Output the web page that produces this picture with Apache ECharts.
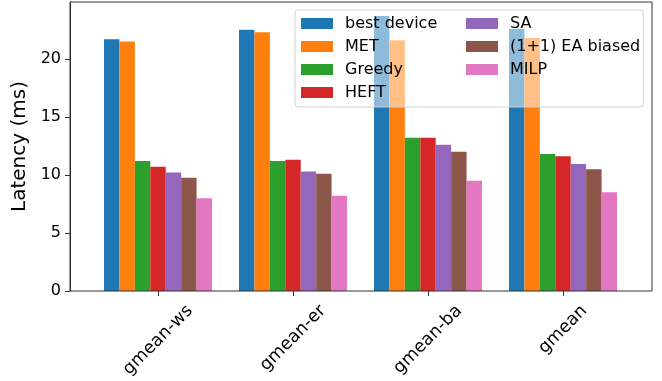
<!DOCTYPE html>
<html>
<head>
<meta charset="utf-8">
<script src="https://cdn.jsdelivr.net/npm/echarts@6/dist/echarts.min.js"></script>
<style>
  html, body { margin: 0; padding: 0; background: #fff; }
  #chart { width: 662px; height: 381px; }
</style>
</head>
<body>
<div id="chart"></div>
<script>
// Workload groups on the x axis
const categories = ['gmean-ws', 'gmean-er', 'gmean-ba', 'gmean'];

// Latency per scheduler (ms), one value per group
const bestDevice = [21.7, 22.5, 23.7, 22.6];
const met        = [21.5, 22.3, 21.6, 21.8];
const greedy     = [11.2, 11.2, 13.2, 11.8];
const heft       = [10.7, 11.3, 13.2, 11.6];
const sa         = [10.2, 10.3, 12.6, 10.95];
const eaBiased   = [9.75, 10.1, 12.0, 10.5];
const milp       = [8.0, 8.2, 9.5, 8.5];

const seriesNames = ['best device', 'MET', 'Greedy', 'HEFT', 'SA', '(1+1) EA biased', 'MILP'];
const seriesValues = [bestDevice, met, greedy, heft, sa, eaBiased, milp];
const palette = ['#1f77b4', '#ff7f0e', '#2ca02c', '#d62728', '#9467bd', '#8c564b', '#e377c2'];

const yMax = 24.9;
const font = 'DejaVu Sans';
const spine = '#333';
const tickFontSize = 16;
const catFontSize = 17.5;

// Rotated category labels are centred under their tick (bounding box hangs
// below the anchor). Each label gets padding sized from its own text width so
// the rotated text shifts straight down by half of its rotated extent.
const measureCtx = document.createElement('canvas').getContext('2d');
measureCtx.font = catFontSize + 'px "' + font + '"';
const textHeight = catFontSize * 1.164;
const labelRich = {};
categories.forEach((c, i) => {
  const w = measureCtx.measureText(c).width;
  const p = (w + textHeight) / 2;
  labelRich['c' + i] = {
    fontSize: catFontSize, fontFamily: font, color: '#000',
    padding: [p, p, 0, 0]
  };
});

const chart = echarts.init(document.getElementById('chart'), null, { renderer: 'canvas' });

chart.setOption({
  animation: false,
  backgroundColor: '#fff',
  textStyle: { fontFamily: font },
  grid: [
    // frame + value axis
    { left: 70, right: 10, top: 2, bottom: 90, show: true, borderColor: spine, borderWidth: 1,
      backgroundColor: 'transparent', z: 5, containLabel: false, outerBoundsMode: 'none' },
    // bar area (inset so the groups get side margins)
    { left: 90.5, right: 31.5, top: 2, bottom: 90, containLabel: false, outerBoundsMode: 'none' }
  ],
  xAxis: [
    { gridIndex: 0, type: 'value', show: false, min: 0, max: 1 },
    {
      gridIndex: 1, type: 'category', data: categories,
      axisLine: { show: false },
      axisTick: { show: true, alignWithLabel: true, length: 5, lineStyle: { color: spine } },
      axisLabel: {
        rotate: 45, margin: 10, align: 'center', verticalAlign: 'middle',
        fontSize: catFontSize, color: '#000', fontFamily: font,
        formatter: (v, i) => '{c' + i + '|' + v + '}',
        rich: labelRich
      },
      splitLine: { show: false }
    }
  ],
  yAxis: [
    {
      gridIndex: 0, type: 'value', min: 0, max: yMax, interval: 5,
      name: 'Latency (ms)', nameLocation: 'middle', nameGap: 35,
      nameTextStyle: { fontSize: 20, color: '#000', fontFamily: font },
      axisLine: { show: true, lineStyle: { color: spine } },
      axisTick: { show: true, length: 5, lineStyle: { color: spine } },
      axisLabel: { fontSize: tickFontSize, color: '#000', margin: 9, fontFamily: font,
        showMaxLabel: false },
      splitLine: { show: false }
    },
    { gridIndex: 1, type: 'value', min: 0, max: yMax, show: false, splitLine: { show: false } }
  ],
  legend: {
    orient: 'vertical',
    left: 295, top: 10, height: 90,
    padding: [4.5, 3, 5.5, 6],
    itemWidth: 32, itemHeight: 11, itemGap: 5,
    icon: 'rect',
    backgroundColor: 'rgba(255,255,255,0.5)',
    borderColor: '#d0d0d0', borderWidth: 1, borderRadius: 3,
    textStyle: { fontSize: 16, color: '#000', fontFamily: font, lineHeight: 18,
      width: 116, padding: [0, 0, 0, 7] },
    data: seriesNames
  },
  series: seriesNames.map((name, i) => ({
    name: name,
    type: 'bar',
    xAxisIndex: 1,
    yAxisIndex: 1,
    data: seriesValues[i],
    barGap: '0%',
    barCategoryGap: '20%',
    itemStyle: { color: palette[i] }
  }))
});
</script>
</body>
</html>
